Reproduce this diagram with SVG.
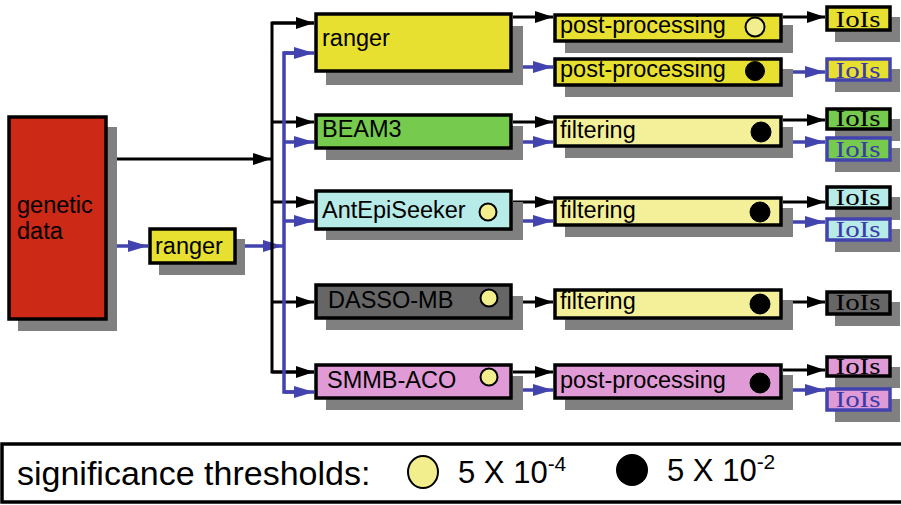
<svg xmlns="http://www.w3.org/2000/svg" width="901" height="505" viewBox="0 0 901 505">
<style>
.sh{fill:#808080}
.bx{stroke:#000;stroke-width:3.5}
.bb{stroke:#4343b0;stroke-width:3.5}
.lbl{font-family:"Liberation Sans",Arial,sans-serif;font-size:23.5px;fill:#000}
.ioi{font-family:"Liberation Serif","Times New Roman",serif;font-size:24px;text-anchor:middle;fill:#000}
.ioib{fill:#3a3aa8}
.k{stroke:#000;stroke-width:3;fill:none}
.b{stroke:#4343b0;stroke-width:3.5;fill:none}
.dy{fill:#f2ee8e;stroke:#000;stroke-width:2}
.dk{fill:#000;stroke:#000;stroke-width:1}
.yel{fill:#e8e030}
.grn{fill:#76cb4e}
.cyn{fill:#b6ebe8}
.gry{fill:#666666}
.pnk{fill:#e09ad6}
.fil{fill:#f4f09a}
</style>
<defs>
<marker id="ak" viewBox="0 0 18 12" refX="18" refY="6" markerWidth="18" markerHeight="12" markerUnits="userSpaceOnUse" orient="auto"><path d="M0,0 L18,6 L0,12 Z" fill="#000"/></marker>
<marker id="ab" viewBox="0 0 20 12" refX="20" refY="6" markerWidth="20" markerHeight="12" markerUnits="userSpaceOnUse" orient="auto"><path d="M0,0 L20,6 L0,12 Z" fill="#4343b0"/></marker>
</defs>
<rect width="901" height="505" fill="#fff"/>

<g id="connectors">
<path class="k" d="M108,159 H271" marker-end="url(#ak)"/>
<path class="b" d="M108,246 H148" marker-end="url(#ab)"/>
<path class="b" d="M237,246 H283" marker-end="url(#ab)"/>
<path class="k" d="M314,23 H272 V372 H314"/>
<path class="k" d="M272,23 H314" marker-end="url(#ak)"/>
<path class="k" d="M272,122 H314" marker-end="url(#ak)"/>
<path class="k" d="M272,202 H314" marker-end="url(#ak)"/>
<path class="k" d="M272,302 H314" marker-end="url(#ak)"/>
<path class="k" d="M272,372 H314" marker-end="url(#ak)"/>
<path class="b" d="M300,53 H284 V392 H300"/>
<path class="b" d="M284,53 H314" marker-end="url(#ab)"/>
<path class="b" d="M284,142 H314" marker-end="url(#ab)"/>
<path class="b" d="M284,221 H314" marker-end="url(#ab)"/>
<path class="b" d="M284,392 H314" marker-end="url(#ab)"/>
<path class="k" d="M513,17 H553" marker-end="url(#ak)"/>
<path class="b" d="M513,67 H553" marker-end="url(#ab)"/>
<path class="k" d="M513,122 H553" marker-end="url(#ak)"/>
<path class="b" d="M513,142 H553" marker-end="url(#ab)"/>
<path class="k" d="M513,202 H553" marker-end="url(#ak)"/>
<path class="b" d="M513,221 H553" marker-end="url(#ab)"/>
<path class="k" d="M513,302 H553" marker-end="url(#ak)"/>
<path class="k" d="M513,372 H553" marker-end="url(#ak)"/>
<path class="b" d="M513,390 H553" marker-end="url(#ab)"/>
<path class="k" d="M783,17 H825" marker-end="url(#ak)"/>
<path class="b" d="M783,72 H825" marker-end="url(#ab)"/>
<path class="k" d="M783,120 H825" marker-end="url(#ak)"/>
<path class="b" d="M783,142 H825" marker-end="url(#ab)"/>
<path class="k" d="M783,202 H825" marker-end="url(#ak)"/>
<path class="b" d="M783,222 H825" marker-end="url(#ab)"/>
<path class="k" d="M783,302 H825" marker-end="url(#ak)"/>
<path class="k" d="M783,370 H825" marker-end="url(#ak)"/>
<path class="b" d="M783,390 H825" marker-end="url(#ab)"/>
</g>

<g id="genetic-data">
<rect class="sh" x="18" y="127" width="99" height="204"/>
<rect class="bx" x="9" y="117" width="97" height="202" fill="#cc2916"/>
<text class="lbl" x="17" y="213">genetic</text>
<text class="lbl" x="17" y="239">data</text>
</g>

<g id="ranger-filter">
<rect class="sh" x="159" y="239" width="86" height="36"/>
<rect class="bx yel" x="150" y="229" width="85" height="34"/>
<text class="lbl" x="155" y="254">ranger</text>
</g>

<g id="ranger">
<rect class="sh" x="326" y="26" width="197" height="59"/>
<rect class="bx yel" x="316" y="14" width="195" height="57"/>
<text class="lbl" x="322" y="46">ranger</text>
</g>
<g id="beam3">
<rect class="sh" x="326" y="126" width="197" height="34"/>
<rect class="bx grn" x="316" y="115" width="195" height="33"/>
<text class="lbl" x="322" y="137">BEAM3</text>
</g>
<g id="antepiseeker">
<rect class="sh" x="326" y="202" width="197" height="38"/>
<rect class="bx cyn" x="316" y="191" width="195" height="38"/>
<text class="lbl" x="322" y="218">AntEpiSeeker</text>
<circle class="dy" cx="488" cy="212" r="8.5"/>
</g>
<g id="dasso-mb">
<rect class="sh" x="326" y="296" width="197" height="34"/>
<rect class="bx gry" x="316" y="285" width="195" height="33"/>
<text class="lbl" x="328" y="308" fill="#1a1a1a">DASSO-MB</text>
<circle class="dy" cx="489" cy="298" r="8.5"/>
</g>
<g id="smmb-aco">
<rect class="sh" x="326" y="376" width="197" height="34"/>
<rect class="bx pnk" x="316" y="365" width="195" height="33"/>
<text class="lbl" x="327" y="388" fill="#2a0a28">SMMB-ACO</text>
<circle class="dy" cx="489" cy="377" r="8.5"/>
</g>

<g id="pp1">
<rect class="sh" x="565" y="25" width="228" height="28"/>
<rect class="bx yel" x="555" y="15" width="226" height="26"/>
<text class="lbl" x="560" y="33">post-processing</text>
<circle class="dy" cx="755" cy="27" r="9.5" fill="#f8f4b4"/>
</g>
<g id="pp2">
<rect class="sh" x="565" y="69" width="228" height="28"/>
<rect class="bx yel" x="555" y="59" width="226" height="26"/>
<text class="lbl" x="560" y="77">post-processing</text>
<circle class="dk" cx="755" cy="71" r="9.5"/>
</g>
<g id="filtering1">
<rect class="sh" x="565" y="127" width="228" height="31"/>
<rect class="bx fil" x="555" y="117" width="226" height="29"/>
<text class="lbl" x="560" y="138">filtering</text>
<circle class="dk" cx="761" cy="132" r="10"/>
</g>
<g id="filtering2">
<rect class="sh" x="565" y="208" width="228" height="29"/>
<rect class="bx fil" x="555" y="198" width="226" height="27"/>
<text class="lbl" x="560" y="218">filtering</text>
<circle class="dk" cx="760" cy="212" r="10"/>
</g>
<g id="filtering3">
<rect class="sh" x="565" y="300" width="228" height="30"/>
<rect class="bx fil" x="555" y="290" width="226" height="28"/>
<text class="lbl" x="560" y="309">filtering</text>
<circle class="dk" cx="760" cy="304" r="10"/>
</g>
<g id="pp3">
<rect class="sh" x="565" y="375" width="228" height="35"/>
<rect class="bx pnk" x="555" y="365" width="226" height="33"/>
<text class="lbl" x="560" y="388">post-processing</text>
<circle class="dk" cx="760" cy="383" r="10"/>
</g>

<g id="iois1">
<rect class="sh" x="835" y="17" width="65" height="25"/>
<rect class="bx yel" x="827" y="7" width="63" height="23"/>
<text class="ioi" x="858" y="27" textLength="45" lengthAdjust="spacingAndGlyphs">IoIs</text>
</g>
<g id="iois2">
<rect class="sh" x="835" y="69" width="65" height="23"/>
<rect class="bb yel" x="827" y="59" width="63" height="21"/>
<text class="ioi ioib" x="858" y="78" textLength="45" lengthAdjust="spacingAndGlyphs">IoIs</text>
</g>
<g id="iois3">
<rect class="sh" x="835" y="119" width="65" height="22"/>
<rect class="bx grn" x="827" y="109" width="63" height="20"/>
<text class="ioi" x="858" y="126" textLength="45" lengthAdjust="spacingAndGlyphs">IoIs</text>
</g>
<g id="iois4">
<rect class="sh" x="835" y="148" width="65" height="24"/>
<rect class="bb grn" x="827" y="138" width="63" height="22"/>
<text class="ioi ioib" x="858" y="157" textLength="45" lengthAdjust="spacingAndGlyphs">IoIs</text>
</g>
<g id="iois5">
<rect class="sh" x="835" y="197" width="65" height="23"/>
<rect class="bx cyn" x="827" y="187" width="63" height="21"/>
<text class="ioi" x="858" y="205" textLength="45" lengthAdjust="spacingAndGlyphs">IoIs</text>
</g>
<g id="iois6">
<rect class="sh" x="835" y="229" width="65" height="23"/>
<rect class="bb cyn" x="827" y="219" width="63" height="21"/>
<text class="ioi ioib" x="858" y="237" textLength="45" lengthAdjust="spacingAndGlyphs">IoIs</text>
</g>
<g id="iois7">
<rect class="sh" x="835" y="302" width="65" height="24"/>
<rect class="bx gry" x="827" y="292" width="63" height="22"/>
<text class="ioi" x="858" y="310" fill="#1a1a1a" textLength="45" lengthAdjust="spacingAndGlyphs">IoIs</text>
</g>
<g id="iois8">
<rect class="sh" x="835" y="367" width="65" height="21"/>
<rect class="bx pnk" x="827" y="357" width="63" height="19"/>
<text class="ioi" x="858" y="374" textLength="45" lengthAdjust="spacingAndGlyphs">IoIs</text>
</g>
<g id="iois9">
<rect class="sh" x="835" y="399" width="65" height="23"/>
<rect class="bb pnk" x="827" y="389" width="63" height="21"/>
<text class="ioi ioib" x="858" y="407" textLength="45" lengthAdjust="spacingAndGlyphs">IoIs</text>
</g>

<g id="legend">
<rect x="2" y="444" width="920" height="58" fill="#fff" stroke="#000" stroke-width="3.5"/>
<text x="17" y="485" font-family="Liberation Sans, Arial, sans-serif" font-size="34">significance thresholds:</text>
<ellipse cx="423" cy="472" rx="15" ry="16" fill="#f2ee8e" stroke="#000" stroke-width="2"/>
<text x="458" y="483" font-family="Liberation Sans, Arial, sans-serif" font-size="31">5 X 10<tspan font-size="21" dy="-12">-4</tspan></text>
<ellipse cx="632" cy="470" rx="16" ry="16" fill="#000"/>
<text x="667" y="481" font-family="Liberation Sans, Arial, sans-serif" font-size="31">5 X 10<tspan font-size="21" dy="-12">-2</tspan></text>
</g>
</svg>
